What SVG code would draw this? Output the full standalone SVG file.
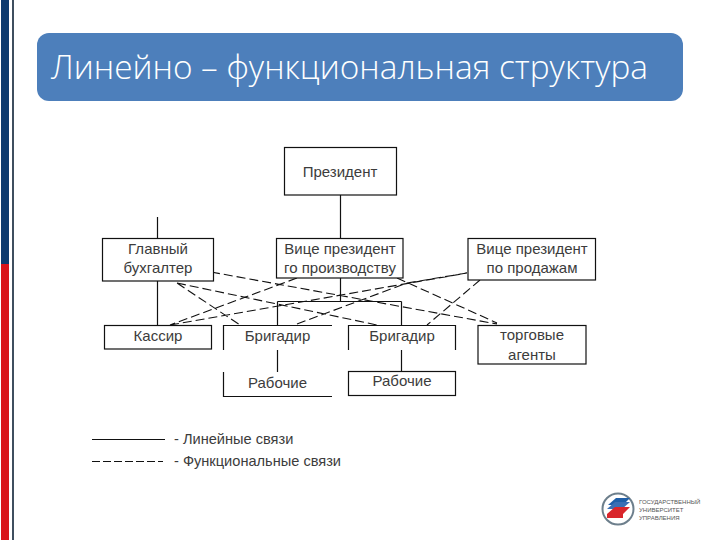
<svg xmlns="http://www.w3.org/2000/svg" width="720" height="540" viewBox="0 0 720 540">
<style>
.b{fill:#fff;stroke:#111;stroke-width:1.2}
.l{fill:none;stroke:#111;stroke-width:1.2}
.d{fill:none;stroke:#111;stroke-width:1.1;stroke-dasharray:9 4}
text{font-family:"Liberation Sans",Arial,sans-serif;font-size:15px;fill:#3c3c3c;text-anchor:middle}
.lg{text-anchor:start;font-size:14.6px}
.u{font-size:6px;text-anchor:start;fill:#555}
</style>
<rect width="720" height="540" fill="#fff"/>
<g id="sidebar">
<rect x="1" y="0" width="8" height="264" fill="#0d3a6e"/>
<rect x="1" y="264" width="8" height="276" fill="#d9141a"/>
<rect x="12" y="0" width="2" height="540" fill="#3f4f5f"/>
</g>
<g id="title">
<rect x="37" y="33" width="646" height="68" rx="12" fill="#4d7fbb"/>
<text x="51" y="79" textLength="597" lengthAdjust="spacingAndGlyphs" style="font-family:'Open Sans','Noto Sans',sans-serif;font-size:33px;font-weight:300;fill:#fff;text-anchor:start">Линейно – функциональная структура</text>
</g>
<g id="connectors">
<path class="l" d="M340.5 195V239M157.5 217V239M157.5 281V325M340.5 278V301.5M277.5 301.5H401.5M277.5 301.5V325.5M401.5 301.5V325.5M277.5 350V372M401.5 350V371.5"/>
<path class="d" d="M177 283L377 325M177 283L240 325M211 272L497 324M297 278L170 325M170 325L467 273M297 324L407 283L467 273M480 280L427 325M397 278L497 323"/>
<path class="l" d="M92 439.5H165"/>
<path class="d" d="M92 461.5H163" style="stroke-dasharray:8 3"/>
</g>
<g id="president"><rect class="b" x="284.5" y="147.5" width="112" height="47.5"/><text x="340" y="177">Президент</text></g>
<g id="chief-accountant"><rect class="b" x="102.5" y="238.5" width="111" height="42.5"/><text x="158" y="254">Главный</text><text x="158" y="273">бухгалтер</text></g>
<g id="vp-production"><rect class="b" x="276.5" y="238.5" width="126.5" height="39.5"/><text x="340" y="254">Вице президент</text><text x="340" y="273">го производству</text></g>
<g id="vp-sales"><rect class="b" x="468" y="238.5" width="127.5" height="41.5"/><text x="532" y="254">Вице президент</text><text x="532" y="273">по продажам</text></g>
<g id="cashier"><rect class="b" x="104.5" y="325.5" width="107" height="23.5"/><text x="158" y="341">Кассир</text></g>
<g id="foreman-1"><path class="l" d="M223.5 350V325.5H332"/><text x="277.5" y="341">Бригадир</text></g>
<g id="workers-1"><path class="l" d="M223.5 372V396.5H332"/><text x="277.5" y="388">Рабочие</text></g>
<g id="foreman-2"><path class="l" d="M348.5 350V325.5H455.5V350"/><text x="402" y="341">Бригадир</text></g>
<g id="workers-2"><rect class="b" x="348.5" y="371.5" width="107" height="24"/><text x="402" y="386">Рабочие</text></g>
<g id="sales-agents"><rect class="b" x="478" y="325.5" width="108" height="38.5"/><text x="532" y="340">торговые</text><text x="532" y="360">агенты</text></g>
<g id="legend">
<text class="lg" x="174" y="444">- Линейные связи</text>
<text class="lg" x="174" y="466">- Функциональные связи</text>
</g>
<g id="logo">
<circle cx="618" cy="509" r="15.5" fill="#fff" stroke="#6d7f8c" stroke-width="2"/>
<path d="M608 505L616 498H630L623 505Z" fill="#1f5fa8"/>
<path d="M607 509L615 502H630L622 509Z" fill="#3a6fb5"/>
<path d="M607 514L615 507H630L623 514V518H607Z" fill="#d9262c"/>
<text class="u" x="639" y="504">ГОСУДАРСТВЕННЫЙ</text>
<text class="u" x="639" y="512">УНИВЕРСИТЕТ</text>
<text class="u" x="639" y="520">УПРАВЛЕНИЯ</text>
</g>
</svg>
